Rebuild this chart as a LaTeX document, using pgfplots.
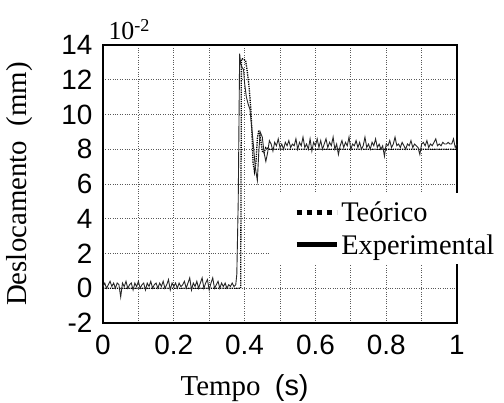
\documentclass[border=0pt]{standalone}
\usepackage{pgfplots}
\pgfplotsset{compat=1.18}
\usepackage{fontspec}
\setmainfont{Liberation Serif}
\newfontfamily\arialfont{Liberation Sans}

\pgfplotstableread{
x y
0.000 0.1
0.005 0.3
0.010 0.0
0.015 0.2
0.020 0.4
0.025 0.1
0.030 0.3
0.035 0.0
0.040 0.3
0.045 0.2
0.050 -0.5
0.055 0.3
0.060 0.1
0.065 0.4
0.070 0.0
0.075 0.2
0.080 0.3
0.085 -0.1
0.090 0.3
0.095 0.1
0.100 0.4
0.105 0.0
0.110 0.2
0.115 0.3
0.120 -0.1
0.125 0.3
0.130 0.1
0.135 0.4
0.140 0.0
0.145 0.2
0.150 0.3
0.155 0.0
0.160 0.3
0.165 0.1
0.170 0.4
0.175 0.0
0.180 0.2
0.185 0.5
0.190 -0.1
0.195 0.3
0.200 0.1
0.205 0.3
0.210 0.0
0.215 0.3
0.220 0.1
0.225 0.2
0.230 0.4
0.235 0.0
0.240 0.3
0.245 0.6
0.250 -0.1
0.255 0.3
0.260 0.1
0.265 0.4
0.270 0.0
0.275 0.3
0.280 0.6
0.285 0.0
0.290 0.3
0.295 0.5
0.300 -0.1
0.305 0.3
0.310 0.6
0.315 0.0
0.320 0.2
0.325 0.4
0.330 0.0
0.335 0.3
0.340 0.1
0.345 0.3
0.350 0.0
0.355 0.2
0.360 0.1
0.365 0.3
0.370 0.1
0.375 0.2
0.378 0.8
0.382 5.0
0.386 13.5
0.389 12.9
0.393 12.7
0.397 12.6
0.400 11.8
0.405 11.0
0.410 10.6
0.415 10.3
0.420 9.3
0.425 8.2
0.430 7.0
0.436 6.2
0.440 7.8
0.444 9.0
0.450 8.7
0.455 7.8
0.460 7.3
0.465 7.8
0.470 8.5
0.475 8.3
0.480 7.9
0.485 8.4
0.490 8.2
0.495 8.6
0.500 8.1
0.505 8.3
0.510 8.0
0.515 8.4
0.520 8.2
0.525 8.5
0.530 8.1
0.535 8.3
0.540 8.2
0.545 8.6
0.550 8.0
0.555 8.4
0.560 8.2
0.565 8.7
0.570 8.1
0.575 8.3
0.580 8.0
0.585 8.6
0.590 7.9
0.595 8.4
0.600 8.2
0.605 8.6
0.610 8.1
0.615 8.5
0.620 8.0
0.625 8.3
0.630 8.6
0.635 8.1
0.640 8.4
0.645 8.2
0.650 8.7
0.655 8.0
0.660 8.3
0.665 7.7
0.670 8.2
0.675 8.5
0.680 8.1
0.685 8.4
0.690 8.2
0.695 8.7
0.700 8.0
0.705 8.3
0.710 8.2
0.715 8.5
0.720 8.1
0.725 8.4
0.730 8.0
0.735 8.2
0.740 8.7
0.745 8.1
0.750 8.3
0.755 8.0
0.760 8.4
0.765 8.2
0.770 8.6
0.775 8.1
0.780 8.3
0.785 8.0
0.790 8.2
0.795 7.6
0.800 8.3
0.805 8.2
0.810 8.5
0.815 8.1
0.820 8.3
0.825 8.7
0.830 8.2
0.835 8.3
0.840 8.1
0.845 8.4
0.850 8.2
0.855 8.0
0.860 8.3
0.865 8.2
0.870 8.5
0.875 8.1
0.880 8.3
0.885 8.2
0.890 8.1
0.895 7.7
0.900 8.3
0.905 8.4
0.910 8.2
0.915 8.5
0.920 8.1
0.925 8.3
0.930 8.2
0.935 8.4
0.940 8.6
0.945 8.2
0.950 8.3
0.955 8.2
0.960 8.4
0.965 8.3
0.970 8.3
0.975 8.4
0.980 8.3
0.985 8.3
0.990 8.6
0.995 8.1
1.000 8.3
}\experimental

\pgfplotstableread{
x y
0.000 0.0
0.389 0.0
0.391 13.2
0.396 13.2
0.403 13.1
0.408 12.4
0.413 11.5
0.418 10.2
0.421 8.8
0.424 7.2
0.428 6.7
0.432 7.2
0.436 8.6
0.440 9.1
0.445 8.6
0.450 7.9
0.455 7.8
0.460 8.1
0.470 8.0
1.000 8.0
}\teorico

\begin{document}
\begin{tikzpicture}
\useasboundingbox (-103bp,-80bp) rectangle (401bp,323bp);
\begin{axis}[
    scale only axis,
    width = 354bp,
    height = 278bp,
    xmin = 0, xmax = 1,
    ymin = -2, ymax = 14,
    xtick = {0,0.2,0.4,0.6,0.8,1},
    xticklabels = {0,0.2,0.4,0.6,0.8,1},
    minor xtick = {0.1,0.3,0.5,0.7,0.9},
    ytick = {-2,0,2,4,6,8,10,12,14},
    yticklabels = {-2,0,2,4,6,8,10,12,14},
    major tick length = 0pt,
    minor tick length = 0pt,
    grid = both,
    major grid style = {dotted, black!65, line width=0.8bp},
    minor grid style = {dotted, black!65, line width=0.8bp},
    axis line style = {line width=2.6bp},
    tick label style = {font=\arialfont\fontsize{28}{28}\selectfont},
    xticklabel style = {yshift=-9bp},
    yticklabel style = {xshift=-7bp},
    xlabel = {Tempo\ \ {\arialfont(s)}},
    ylabel = {Deslocamento\ \ (mm)},
    label style = {font=\fontsize{29}{29}\selectfont},
    xlabel style = {at={(axis description cs:0.40,0)}, anchor=base, yshift=-72bp},
    ylabel style = {at={(axis description cs:-0.235,0.5)}, anchor=center},
    clip = false,
    legend cell align = left,
    legend style = {at={(0.472,0.468)}, anchor=north west, fill=white, draw=none,
        font=\fontsize{28.5}{29}\selectfont, inner xsep=24bp, inner ysep=7bp,
        row sep=7bp},
    legend image code/.code = {\draw[#1] (0bp,0bp) -- (38bp,0bp);
        \path (0bp,0bp) -- (40bp,0bp);},
]
\addlegendimage{black, line width=5bp, dash pattern=on 5.5bp off 4.5bp}
\addlegendentry{Teórico}
\addlegendimage{black, line width=5bp}
\addlegendentry{Experimental}
\addplot[forget plot, black, line width=1.3bp, densely dotted] table[x=x, y=y] {\teorico};
\addplot[forget plot, black!85, line width=0.9bp] table[x=x, y=y] {\experimental};
\node[anchor=base west, font=\fontsize{26}{26}\selectfont, inner sep=0pt]
    at (axis description cs:0.015,1) [yshift=5bp] {10\textsuperscript{-2}};
\end{axis}
\end{tikzpicture}
\end{document}
